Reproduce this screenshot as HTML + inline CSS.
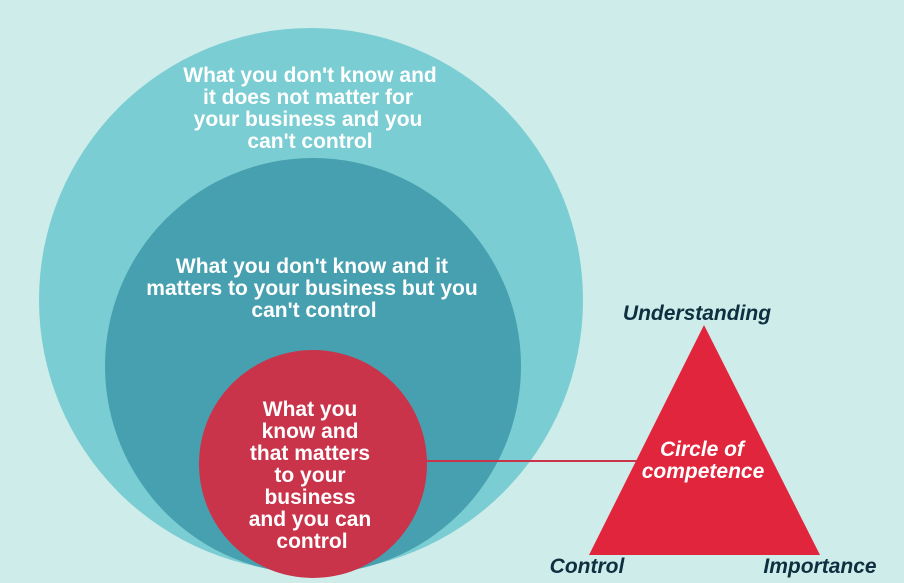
<!DOCTYPE html>
<html><head><style>
html,body{margin:0;padding:0;background:#cdecea;}
svg{display:block;}
text{font-family:"Liberation Sans",sans-serif;font-weight:bold;}
</style></head><body>
<svg width="904" height="583" viewBox="0 0 904 583">
<rect width="904" height="583" fill="#cdecea"/>
<circle cx="311" cy="300" r="272" fill="#7acdd2"/>
<circle cx="313" cy="366" r="208" fill="#47a0b0"/>
<circle cx="313" cy="464" r="114" fill="#c9344b"/>
<line x1="410" y1="461" x2="650" y2="461" stroke="#c9344b" stroke-width="2"/>
<polygon points="704,325 589,555 820,555" fill="#e0253d"/>
<g fill="#fff" font-size="21" text-anchor="middle">
<text x="310" y="82">What you don't know and</text>
<text x="308" y="104">it does not matter for</text>
<text x="308" y="126">your business and you</text>
<text x="310" y="148">can't control</text>
<text x="312" y="273">What you don't know and it</text>
<text x="312" y="295">matters to your business but you</text>
<text x="314" y="317">can't control</text>
<text x="310" y="416">What you</text>
<text x="310" y="438">know and</text>
<text x="310" y="460">that matters</text>
<text x="310" y="482">to your</text>
<text x="310" y="504">business</text>
<text x="310" y="526">and you can</text>
<text x="312" y="548">control</text>
<text x="702" y="456" font-style="italic">Circle of</text>
<text x="703" y="478" font-style="italic">competence</text>
</g>
<g fill="#0e2f3f" font-size="21" font-style="italic">
<text x="697" y="320" text-anchor="middle">Understanding</text>
<text x="587" y="573" text-anchor="middle">Control</text>
<text x="820" y="573" text-anchor="middle">Importance</text>
</g>
</svg>
</body></html>
